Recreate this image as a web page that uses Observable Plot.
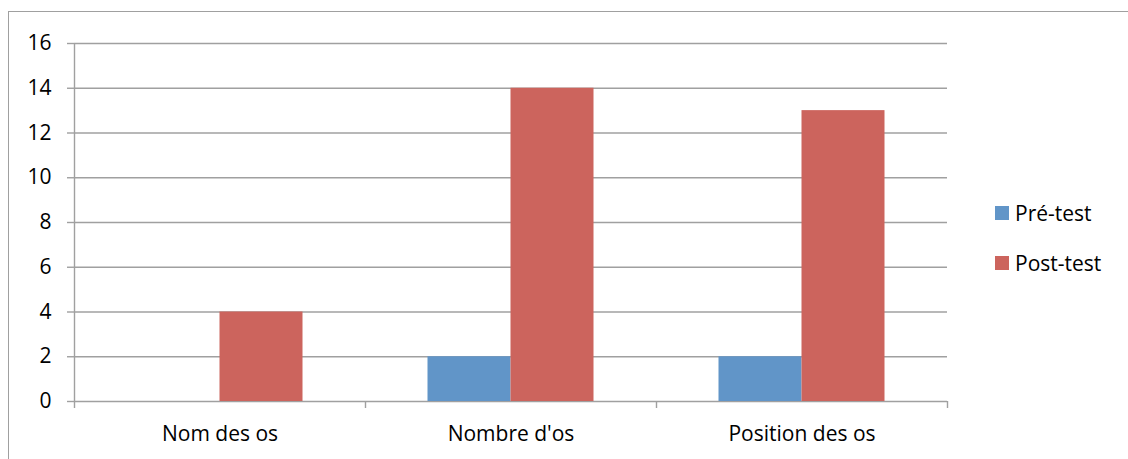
<!DOCTYPE html>
<html>
<head>
<meta charset="utf-8">
<script src="https://cdn.jsdelivr.net/npm/d3@7"></script>
<script src="https://cdn.jsdelivr.net/npm/@observablehq/plot@0.6"></script>
<style>
  body { margin: 0; background: #fff; }
  #chart { position: relative; width: 1128px; height: 459px; overflow: hidden; font-family: "Open Sans", sans-serif; }
  #chart svg { position: absolute; left: 0; top: 0; }
  #frame { position: absolute; left: 8px; top: 11px; right: -10px; bottom: -10px;
           border-left: 1.5px solid #a0a0a0; border-top: 1.5px solid #a0a0a0; pointer-events: none; }
  .item { position: absolute; left: 995px; display: flex; align-items: center; height: 28px;
          font-size: 21px; color: #000; white-space: nowrap; }
  .swatch { width: 14px; height: 14px; margin-right: 6px; }
</style>
</head>
<body>
<div id="chart"></div>
<script>
const categories = ["Nom des os", "Nombre d'os", "Position des os"];
const series = ["Pré-test", "Post-test"];
const preTest = [0, 2, 2];
const postTest = [4, 14, 13];
const yTicks = [0, 2, 4, 6, 8, 10, 12, 14, 16];
const colors = ["#6195C8", "#CC645D"];

const values = [preTest, postTest];
const rows = categories.flatMap((c, i) =>
  series.map((s, j) => ({category: c, index: i, series: s, value: values[j][i]}))
);

// position of each series inside a category slot
const inner = d3.scaleBand().domain(series).range([0, 1]).paddingInner(0).paddingOuter(0.753);

const gridColor = "#a0a0a0";

const chart = Plot.plot({
  width: 1128,
  height: 459,
  marginLeft: 74,
  marginRight: 181,
  marginTop: 43,
  marginBottom: 58,
  x: {domain: [0, categories.length], axis: null},
  y: {domain: [0, 16], axis: null},
  color: {domain: series, range: colors},
  style: {fontFamily: "'Open Sans', sans-serif", fontSize: "21px", color: "black", background: "transparent"},
  marks: [
    Plot.ruleY(yTicks, {stroke: gridColor, strokeWidth: 1.4}),
    Plot.rect(rows, {
      x1: d => d.index + inner(d.series),
      x2: d => d.index + inner(d.series) + inner.bandwidth(),
      y1: 0,
      y2: "value",
      fill: "series"
    }),
    Plot.ruleX([0], {stroke: gridColor, strokeWidth: 1.4, insetBottom: -7}),
    Plot.ruleX(d3.range(1, categories.length + 1), {y1: 0, y2: 0, insetBottom: -7, stroke: gridColor, strokeWidth: 1.4}),
    Plot.axisY(yTicks, {tickSize: 7, tickPadding: 16, stroke: gridColor, strokeWidth: 1.4, fill: "black", fontSize: 21, label: null}),
    Plot.axisX(categories.map((c, i) => i + 0.5), {
      tickSize: 0, tickPadding: 25, fill: "black", fontSize: 21, label: null,
      tickFormat: d => categories[Math.floor(d)]
    })
  ]
});

const root = document.getElementById("chart");
root.appendChild(chart);
const frame = document.createElement("div");
frame.id = "frame";
root.appendChild(frame);

const legendTops = [199, 249];
series.forEach((s, j) => {
  const item = document.createElement("div");
  item.className = "item";
  item.style.top = legendTops[j] + "px";
  const sw = document.createElement("div");
  sw.className = "swatch";
  sw.style.background = colors[j];
  const label = document.createElement("span");
  label.textContent = s;
  item.appendChild(sw);
  item.appendChild(label);
  root.appendChild(item);
});
</script>
</body>
</html>
